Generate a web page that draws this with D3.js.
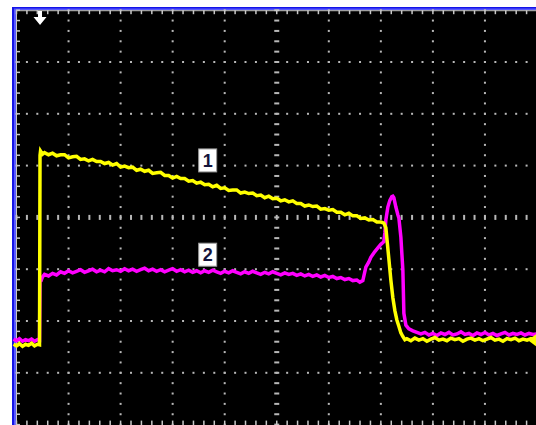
<!DOCTYPE html>
<html>
<head>
<meta charset="utf-8">
<script src="https://cdn.jsdelivr.net/npm/d3@7/dist/d3.min.js"></script>
<style>
  html, body { margin: 0; padding: 0; background: #ffffff; }
  svg { display: block; }
</style>
</head>
<body>
<svg id="scope" width="536" height="425"></svg>
<script>
// Acquisition record: sample index (52 samples per division) and level in divisions.
const SAMPLES_PER_DIV = 52;

// Channel 1 (yellow)
const ch1Samples = [
  -3, 0, 3, 6, 9, 12, 15, 18, 21, 23,
  23.5, 24, 26, 28, 32, 36, 40, 44, 48, 52, 56, 60, 64, 68, 72, 76, 80,
  84, 88, 92, 96, 100, 104, 108, 112, 116, 120, 124, 128, 132, 136, 140,
  144, 148, 152, 156, 160, 164, 168, 172, 176, 180, 184, 188, 192, 196, 200,
  204, 208, 212, 216, 220, 224, 228, 232, 236, 240, 244, 248, 252, 256, 260,
  264, 268, 272, 276, 280, 284, 288, 292, 296, 300, 304, 308, 312, 316, 320,
  324, 328, 332, 336, 340, 344, 348, 352, 356, 360, 364, 367,
  369, 370, 372, 374, 376, 378, 380, 382, 384, 386, 388, 390,
  394, 398, 402, 406, 410, 414, 418, 422, 426, 430, 434, 438, 442, 446, 450,
  454, 458, 462, 466, 470, 474, 478, 482, 486, 490, 494, 498, 502, 506, 510,
  514, 518, 522
];
const ch1Levels = [
  -2.45, -2.48, -2.44, -2.49, -2.45, -2.47, -2.43, -2.48, -2.45, -2.46,
  1.20, 1.28, 1.22, 1.25, 1.21, 1.24, 1.19, 1.21, 1.21, 1.15, 1.17, 1.18, 1.12, 1.13, 1.09, 1.12, 1.08,
  1.08, 1.04, 1.06, 1.01, 1.04, 0.97, 0.99, 0.96, 0.97, 0.91, 0.93, 0.89, 0.91, 0.85, 0.86,
  0.87, 0.81, 0.81, 0.76, 0.79, 0.75, 0.75, 0.70, 0.71, 0.66, 0.68, 0.63, 0.64, 0.59, 0.62,
  0.56, 0.57, 0.52, 0.53, 0.53, 0.47, 0.49, 0.46, 0.47, 0.42, 0.43, 0.38, 0.41, 0.36, 0.37,
  0.32, 0.34, 0.30, 0.32, 0.27, 0.27, 0.22, 0.24, 0.21, 0.22, 0.16, 0.17, 0.14, 0.15, 0.10,
  0.10, 0.05, 0.08, 0.03, 0.03, -0.02, -0.01, -0.05, -0.04, -0.09, -0.09, -0.11,
  -0.20, -0.40, -0.80, -1.21, -1.55, -1.80, -1.98, -2.10, -2.23, -2.30, -2.36, -2.34,
  -2.38, -2.33, -2.37, -2.34, -2.39, -2.35, -2.32, -2.37, -2.35, -2.38, -2.33, -2.36, -2.34, -2.39, -2.35,
  -2.33, -2.37, -2.34, -2.38, -2.35, -2.32, -2.37, -2.35, -2.39, -2.34, -2.36, -2.33, -2.38, -2.35, -2.37,
  -2.34, -2.36, -2.35
];

// Channel 2 (magenta)
const ch2Samples = [
  -3, 0, 3, 6, 9, 12, 15, 18, 21, 23,
  23.5, 25, 26, 28, 32, 36, 40, 44, 48, 52, 56, 60, 64, 68, 72, 76, 80,
  84, 88, 92, 96, 100, 104, 108, 112, 116, 120, 124, 128, 132, 136, 140,
  144, 148, 152, 156, 160, 164, 168, 172, 176, 180, 184, 188, 192, 196, 200,
  204, 208, 212, 216, 220, 224, 228, 232, 236, 240, 244, 248, 252, 256, 260,
  264, 268, 272, 276, 280, 284, 288, 292, 296, 300, 304, 308, 312, 316, 320,
  324, 328, 332, 336, 340, 343, 346,
  349, 352, 354, 358, 361, 364, 367, 368, 369, 371, 373, 375, 376, 377, 379,
  381, 382, 384, 386, 387, 389, 392, 396, 400, 404,
  408, 412, 416, 420, 424, 428, 432, 436, 440, 444, 448, 452, 456, 460, 464,
  468, 472, 476, 480, 484, 488, 492, 496, 500, 504, 508, 512, 516, 520, 522
];
const ch2Levels = [
  -2.35, -2.38, -2.34, -2.39, -2.36, -2.38, -2.35, -2.39, -2.36, -2.37,
  -1.18, -1.20, -1.15, -1.10, -1.13, -1.08, -1.11, -1.05, -1.08, -1.03, -1.07, -1.04, -1.01, -1.06, -1.03, -1.00, -1.05,
  -1.02, -1.05, -0.99, -1.03, -1.01, -1.04, -0.99, -1.03, -1.00, -1.04, -1.01, -0.98, -1.03, -1.00, -1.04,
  -1.01, -1.05, -1.02, -0.99, -1.04, -1.01, -1.05, -1.02, -1.06, -1.03, -1.07, -1.03, -1.06, -1.02, -1.05,
  -1.08, -1.04, -1.07, -1.03, -1.06, -1.09, -1.05, -1.08, -1.04, -1.07, -1.10, -1.06, -1.09, -1.05, -1.08,
  -1.11, -1.07, -1.10, -1.08, -1.12, -1.09, -1.13, -1.10, -1.14, -1.11, -1.15, -1.12, -1.16, -1.14, -1.18,
  -1.16, -1.20, -1.18, -1.22, -1.21, -1.25, -1.22,
  -0.96, -0.86, -0.77, -0.66, -0.59, -0.52, -0.47, -0.30, -0.05, 0.20, 0.33, 0.40, 0.41, 0.38, 0.20,
  0.05, -0.01, -0.38, -1.02, -1.85, -2.08, -2.15, -2.19, -2.22, -2.25,
  -2.22, -2.27, -2.24, -2.28, -2.23, -2.26, -2.22, -2.27, -2.25, -2.21, -2.26, -2.24, -2.28, -2.23, -2.26,
  -2.22, -2.27, -2.24, -2.28, -2.25, -2.22, -2.27, -2.24, -2.26, -2.23, -2.27, -2.24, -2.26, -2.25, -2.24
];

// Channel number tags placed beside each trace (sample, level)
const tagNames = ["1", "2"];
const tagSamples = [191, 191];
const tagLevels = [1.10, -0.72];

// Trigger: time position (sample) and channel 1 trigger level (div)
const triggerSample = 23.5;
const triggerLevel = -2.37;

const HDIV = 10, VDIV = 8, MINOR = 5;

const svg = d3.select("#scope");

const x = d3.scaleLinear().domain([0, HDIV]).range([16.5, 537]);
const y = d3.scaleLinear().domain([-VDIV / 2, VDIV / 2]).range([424.6, 10.2]);
const xs = s => x(s / SAMPLES_PER_DIV);

// Bezel
svg.append("rect").attr("x", 12).attr("y", 7).attr("width", 530).attr("height", 430).attr("fill", "#1414e8");
svg.append("rect").attr("x", 14).attr("y", 8.5).attr("width", 530).attr("height", 430).attr("fill", "#5a5aff");
svg.append("rect").attr("x", 16).attr("y", 10).attr("width", 530).attr("height", 430).attr("fill", "#000000");

const grid = svg.append("g").attr("fill", "#b8b8b8");
const minorX = d3.range(0, HDIV * MINOR + 1).map(i => i / MINOR);
const minorY = d3.range(-VDIV / 2 * MINOR, VDIV / 2 * MINOR + 1).map(i => i / MINOR);

// Dotted graticule lines
d3.range(1, HDIV + 1).filter(k => k !== HDIV / 2).forEach(k => {
  grid.selectAll(null).data(minorY).join("rect")
    .attr("x", x(k) - 1).attr("y", d => y(d) - 1).attr("width", 2).attr("height", 2);
});
d3.range(-VDIV / 2 + 1, VDIV / 2).filter(m => m !== 0).forEach(m => {
  grid.selectAll(null).data(minorX).join("rect")
    .attr("x", d => x(d) - 1).attr("y", y(m) - 1).attr("width", 2).attr("height", 2);
});

// Centre axes with minor tick dashes
grid.selectAll(null).data(minorY).join("rect")
  .attr("x", x(HDIV / 2) - 2.5).attr("y", d => y(d) - 1).attr("width", 5).attr("height", 2);
grid.selectAll(null).data(minorX).join("rect")
  .attr("x", d => x(d) - 1).attr("y", y(0) - 2.5).attr("width", 2).attr("height", 5);

// Screen edge ticks
const edge = svg.append("g").attr("fill", "#c8c8c8");
edge.append("rect").attr("x", 16).attr("y", y(VDIV / 2)).attr("width", 530).attr("height", 1);
edge.append("rect").attr("x", x(0) - 0.5).attr("y", 10).attr("width", 1).attr("height", 420);
edge.selectAll(null).data(minorX).join("rect")
  .attr("x", d => x(d) - 0.75).attr("y", y(VDIV / 2)).attr("width", 1.5).attr("height", 4);
edge.selectAll(null).data(minorY).join("rect")
  .attr("x", x(0) - 0.5).attr("y", d => y(d) - 0.75).attr("width", 4).attr("height", 1.5);
edge.selectAll(null).data(minorX).join("rect")
  .attr("x", d => x(d) - 0.75).attr("y", y(-VDIV / 2) - 4).attr("width", 1.5).attr("height", 5);

// Traces
const line = d3.line().x(d => xs(d[0])).y(d => y(d[1]));
const ch1 = d3.zip(ch1Samples, ch1Levels);
const ch2 = d3.zip(ch2Samples, ch2Levels);

svg.append("path").datum(ch2).attr("d", line)
  .attr("fill", "none").attr("stroke", "#ff00ff").attr("stroke-width", 3.5)
  .attr("stroke-linejoin", "miter");
svg.append("path").datum(ch1).attr("d", line)
  .attr("fill", "none").attr("stroke", "#ffff00").attr("stroke-width", 3.5)
  .attr("stroke-linejoin", "miter");

// Trigger position marker (top)
const tx = xs(triggerSample);
svg.append("path")
  .attr("d", `M${tx - 2},11 L${tx + 2},11 L${tx + 2},17 L${tx + 6.5},17 L${tx},25 L${tx - 6.5},17 L${tx - 2},17 Z`)
  .attr("fill", "#ffffff");

// Trigger level marker (right edge)
const ty = y(triggerLevel);
svg.append("path")
  .attr("d", `M528,${ty} L536,${ty - 6} L536,${ty + 6} Z`)
  .attr("fill", "#ffff00");

// Channel tags
const tags = svg.append("g");
tagNames.forEach((name, i) => {
  const cx = xs(tagSamples[i]), cy = y(tagLevels[i]);
  tags.append("rect")
    .attr("x", cx - 9).attr("y", cy - 11.5).attr("width", 18).attr("height", 23)
    .attr("fill", "#ffffff").attr("stroke", "#9a9a9a").attr("stroke-width", 1);
  tags.append("text")
    .attr("x", cx).attr("y", cy + 6.5)
    .attr("text-anchor", "middle")
    .attr("font-family", "Liberation Sans, Arial, sans-serif")
    .attr("font-weight", "bold").attr("font-size", 18)
    .attr("fill", "#14143c")
    .text(name);
});
</script>
</body>
</html>
